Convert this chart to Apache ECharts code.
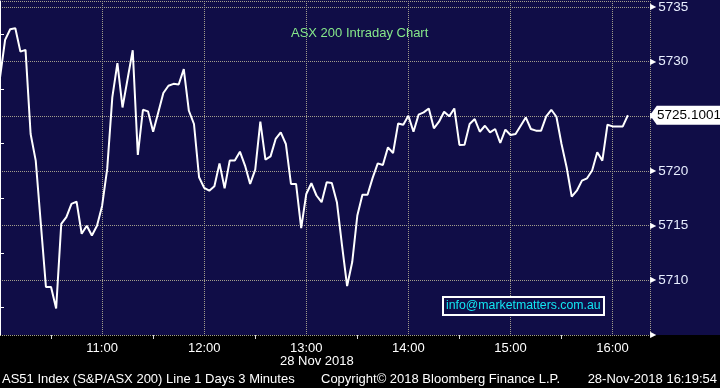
<!DOCTYPE html>
<html><head><meta charset="utf-8">
<script src="https://cdn.jsdelivr.net/npm/echarts@6/dist/echarts.min.js"></script>
<style>
html,body{margin:0;padding:0;background:#000;}
#c{width:720px;height:388px;background:linear-gradient(to bottom,#100d47 0px,#100d47 335px,#000 335px,#000 388px);}
</style>
</head><body><div id="c"></div>
<script>
// ---- data (3-minute bars, 28 Nov 2018) ----
const times = ["10:00","10:03","10:06","10:09","10:12","10:15","10:18","10:21","10:27","10:30","10:33","10:36","10:39","10:42","10:45","10:48","10:51","10:54","10:57","11:00","11:03","11:06","11:09","11:12","11:18","11:21","11:24","11:27","11:30","11:33","11:36","11:39","11:42","11:45","11:48","11:51","11:54","11:57","12:00","12:03","12:06","12:09","12:12","12:15","12:18","12:21","12:24","12:27","12:30","12:33","12:36","12:39","12:42","12:45","12:48","12:51","12:54","12:57","13:00","13:03","13:06","13:09","13:12","13:15","13:18","13:21","13:24","13:27","13:30","13:33","13:36","13:39","13:42","13:45","13:48","13:51","13:54","13:57","14:00","14:03","14:06","14:09","14:12","14:15","14:18","14:21","14:24","14:27","14:30","14:33","14:36","14:39","14:42","14:45","14:48","14:51","14:54","14:57","15:00","15:03","15:06","15:09","15:12","15:15","15:18","15:21","15:24","15:27","15:30","15:33","15:36","15:39","15:42","15:45","15:48","15:51","15:54","15:57","16:00","16:03","16:06","16:09"];
const values = [5728.55,5731.99,5732.96,5733.05,5730.92,5731.08,5723.38,5720.95,5709.39,5709.39,5707.42,5715.17,5715.78,5717.0,5717.2,5714.26,5715.0,5714.1,5715.0,5716.8,5720.19,5726.73,5729.86,5725.81,5731.05,5721.47,5725.6,5725.45,5723.59,5725.36,5727.13,5727.8,5727.97,5727.91,5729.32,5725.51,5724.3,5719.43,5718.46,5718.2,5718.6,5720.7,5718.42,5720.95,5720.95,5721.77,5720.5,5718.82,5720.13,5724.51,5721.04,5721.34,5722.93,5723.53,5722.47,5718.82,5718.82,5714.77,5717.9,5718.88,5717.76,5717.15,5718.97,5718.91,5717.15,5713.19,5709.48,5711.67,5715.93,5717.82,5717.82,5719.37,5720.7,5720.55,5722.16,5721.65,5724.35,5724.23,5725.05,5723.59,5725.15,5725.36,5725.72,5723.9,5724.51,5725.42,5725.0,5725.72,5722.38,5722.41,5724.3,5724.75,5723.59,5724.14,5723.53,5723.84,5722.56,5723.78,5723.29,5723.38,5724.14,5724.9,5723.84,5723.69,5723.69,5725.0,5725.6,5724.96,5722.47,5720.34,5717.66,5718.2,5719.12,5719.33,5720.04,5721.71,5720.95,5724.23,5724.08,5724.08,5724.08,5725.1001];
const hourLabels = [60,120,180,240,300,360];          // minutes after 10:00
const halfHourTicks = [30,90,150,210,270,330];
const yLabels = [5705,5710,5715,5720,5725,5730,5735];
const yMinorTicks = [5707.5,5712.5,5717.5,5722.5,5727.5,5732.5];
const titleText = 'ASX 200 Intraday Chart';
const emailText = 'info@marketmatters.com.au';
const dateText = '28 Nov 2018';
const footerLeft = 'AS51 Index (S&P/ASX 200) Line 1 Days 3 Minutes';
const footerMid = 'Copyright\u00A9 2018 Bloomberg Finance L.P.';
const footerRight = '28-Nov-2018 16:19:54';

const FONT = 'Liberation Sans';
const NAVY = '#100d47';
const GRIDC = '#a29d8c';
const X_MIN = 0, X_MAX = 382, Y_MIN = 5705, Y_MAX = 5735.55;
const toMin = t => { const p = t.split(':').map(Number); return (p[0]-10)*60 + p[1]; };
const minLabel = m => (10 + Math.floor(m/60)) + ':' + String(m % 60).padStart(2,'0');
const lineData = times.map((t,i) => [toMin(t), values[i]]);
const lastPt = lineData[lineData.length-1];
const gridSplit = {show: true, lineStyle: {color: GRIDC, type: 'dotted', width: 1}};

const chart = echarts.init(document.getElementById('c'));
chart.setOption({
  backgroundColor: 'transparent',
  animation: false,
  title: [
    {text: titleText, left: 291, top: 27, padding: 0,
     textStyle: {color: '#86e88a', fontSize: 13, fontWeight: 'normal', fontFamily: FONT}},
    {text: emailText, left: 443, top: 297, padding: [3,4,3,3], borderColor: '#fff', borderWidth: 2,
     backgroundColor: NAVY, textStyle: {color: '#12e6f2', fontSize: 12.3, fontWeight: 'normal', fontFamily: FONT}}
  ],
  graphic: [
    {type: 'text', left: 280, top: 355, silent: true, style: {text: dateText, fill: '#fff', font: '13px ' + FONT}},
    {type: 'text', left: 2, top: 373, silent: true, style: {text: footerLeft, fill: '#fff', font: '13px ' + FONT}},
    {type: 'text', left: 321, top: 373, silent: true, style: {text: footerMid, fill: '#fff', font: '13px ' + FONT}},
    {type: 'text', right: 3, top: 373, silent: true, style: {text: footerRight, fill: '#fff', font: '13px ' + FONT}}
  ],
  grid: {left: 0, right: 70, top: 0, bottom: 53},
  xAxis: [
    {
      type: 'value', min: X_MIN, max: X_MAX, interval: 60,
      axisLine: {show: false},
      splitLine: {show: false},
      axisTick: {show: true, customValues: halfHourTicks, length: 4, lineStyle: {color: '#d8d8d8'}},
      axisLabel: {customValues: hourLabels, formatter: v => minLabel(v), color: '#fff', fontSize: 13, fontFamily: FONT, margin: 7}
    },
    {
      // grid-line carrier (hidden)
      type: 'value', position: 'top', min: X_MIN, max: X_MAX, interval: 60,
      axisLine: {show: false}, axisLabel: {show: false}, axisTick: {show: false},
      splitLine: gridSplit
    }
  ],
  yAxis: [
    {
      type: 'value', position: 'right', min: Y_MIN, max: Y_MAX, interval: 5,
      axisLine: {show: true, lineStyle: {color: '#fff', width: 1}},
      splitLine: {show: false},
      axisTick: {show: true, customValues: yMinorTicks, length: 4, lineStyle: {color: '#fff'}},
      axisLabel: {
        customValues: yLabels, margin: 0,
        formatter: v => v === 5705 ? '{t|\u25B6}' : '{t|\u25B6}{v|' + v + '}',
        rich: {
          t: {fontFamily: 'DejaVu Sans', fontSize: 8, color: '#fff'},
          v: {fontFamily: FONT, fontSize: 13.5, color: '#e8eeff', padding: [0,0,0,2]}
        }
      }
    },
    {
      // grid-line carrier (hidden)
      type: 'value', position: 'left', min: Y_MIN, max: Y_MAX, interval: 5,
      axisLine: {show: false}, axisLabel: {show: false}, axisTick: {show: false},
      splitLine: gridSplit
    }
  ],
  series: [
    {
      type: 'line', data: lineData, z: 5, showSymbol: false, symbol: 'none',
      lineStyle: {color: '#ffffff', width: 2},
      markPoint: {
        silent: true, animation: false,
        data: [{coord: [X_MAX, lastPt[1]], value: lastPt[1]}],
        symbol: 'path://M0,10 L7,0 L75,0 L75,20 L7,20 Z',
        symbolSize: [72, 19], symbolOffset: [36, 0], symbolKeepAspect: false,
        itemStyle: {color: '#ffffff'},
        label: {show: true, position: 'inside', offset: [3,0], formatter: p => String(p.value),
                color: '#000', fontSize: 13.5, fontFamily: FONT}
      }
    }
  ]
});
</script>
</body></html>
